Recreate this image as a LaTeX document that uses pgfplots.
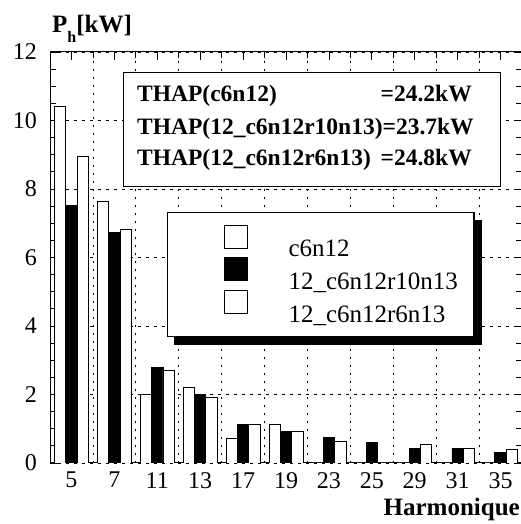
\documentclass[border=0pt]{standalone}
\usepackage{fontspec}
\setmainfont{Liberation Serif}
\usepackage{pgfplots}
\pgfplotsset{compat=1.18}

\begin{document}
\begin{tikzpicture}
\useasboundingbox (0,0) rectangle (520pt,524pt);
\begin{axis}[
  at={(50pt,61pt)}, anchor=south west,
  scale only axis, width=472pt, height=411pt,
  xmin=-0.5, xmax=10.5, ymin=0, ymax=12,
  ybar=0pt, bar width=0.265,
  xtick={0,...,10},
  xticklabels={5,7,11,13,17,19,23,25,29,31,35},
  minor xtick={0.5,1.5,...,9.5},
  xtick pos=right, xticklabel pos=left,
  ytick={0,2,...,12},
  minor ytick={0.5,1,...,11.5},
  tick align=inside,
  major tick length=8pt, minor tick length=6pt,
  ymajorgrids, xminorgrids,
  major grid style={dash pattern=on 3pt off 5pt, black, line width=0.7pt},
  minor grid style={dash pattern=on 2pt off 6pt, black, line width=0.8pt},
  axis line style={line width=1pt},
  every tick/.style={black, line width=0.8pt},
  /pgf/number format/assume math mode=true,
  yticklabel style={font=\fontsize{24}{24}\selectfont, inner sep=0pt, xshift=-13pt},
  xticklabel style={font=\fontsize{24}{24}\selectfont, inner sep=0pt, yshift=-9pt},
  ylabel={\textbf{P\raisebox{-0.4em}{\fontsize{16}{16}\selectfont h}[kW]}},
  ylabel style={rotate=-90, at={(rel axis cs:0,1)}, anchor=base west, xshift=2pt, yshift=19pt, font=\fontsize{25}{25}\selectfont, inner sep=0pt},
  xlabel={\textbf{Harmonique}},
  xlabel style={at={(rel axis cs:1,0)}, anchor=base east, xshift=-2pt, yshift=-52pt, font=\fontsize{25}{25}\selectfont, inner sep=0pt},
  legend cell align=left,
  legend image code/.code={\path (0pt,0pt); \draw[#1, line width=0.8pt] (40pt,-3pt) rectangle (63pt,20pt);},
  legend style={name=leg, at={(0.248,0.611)}, anchor=north west, draw=black, line width=1.4pt, fill=white,
    font=\fontsize{25}{30}\selectfont, inner xsep=16pt, inner ysep=12pt, column sep=41pt, row sep=-1pt,
    nodes={inner sep=0pt, text height=25pt, text depth=2pt}},
]
\addplot[fill=white, draw=black, line width=0.8pt] coordinates {
(0,10.42) (1,7.65) (2,2.0) (3,2.21) (4,0.72) (5,1.13) (6,0) (7,0) (8,0) (9,0) (10,0)};
\addplot[fill=black, draw=black, line width=0.8pt] coordinates {
(0,7.51) (1,6.73) (2,2.79) (3,2.0) (4,1.12) (5,0.92) (6,0.74) (7,0.61) (8,0.43) (9,0.43) (10,0.31)};
\addplot[fill=white, draw=black, line width=0.8pt] coordinates {
(0,8.94) (1,6.83) (2,2.71) (3,1.91) (4,1.12) (5,0.91) (6,0.62) (7,0) (8,0.54) (9,0.43) (10,0.41)};
\legend{c6n12, 12\_c6n12r10n13, 12\_c6n12r6n13}
\end{axis}
% drop shadow of the legend box (strips outside the box)
\fill[black] ([yshift=-8pt]leg.north east) rectangle ([xshift=7pt,yshift=-8pt]leg.south east);
\fill[black] ([xshift=7pt]leg.south west) rectangle ([xshift=7pt,yshift=-8pt]leg.south east);
\draw[fill=white, line width=1pt] (123pt,337pt) rectangle (500pt,451pt);
\begin{scope}[every node/.style={inner sep=0pt, font=\fontsize{23.5}{28}\selectfont\bfseries}]
\node[anchor=base west] at (137pt,422pt) {THAP(c6n12)};
\node[anchor=base east] at (472pt,422pt) {=24.2kW};
\node[anchor=base west] at (137pt,389pt) {THAP(12\_c6n12r10n13)=23.7kW};
\node[anchor=base west] at (137pt,358pt) {THAP(12\_c6n12r6n13)};
\node[anchor=base east] at (472pt,358pt) {=24.8kW};
\end{scope}
\end{tikzpicture}
\end{document}
